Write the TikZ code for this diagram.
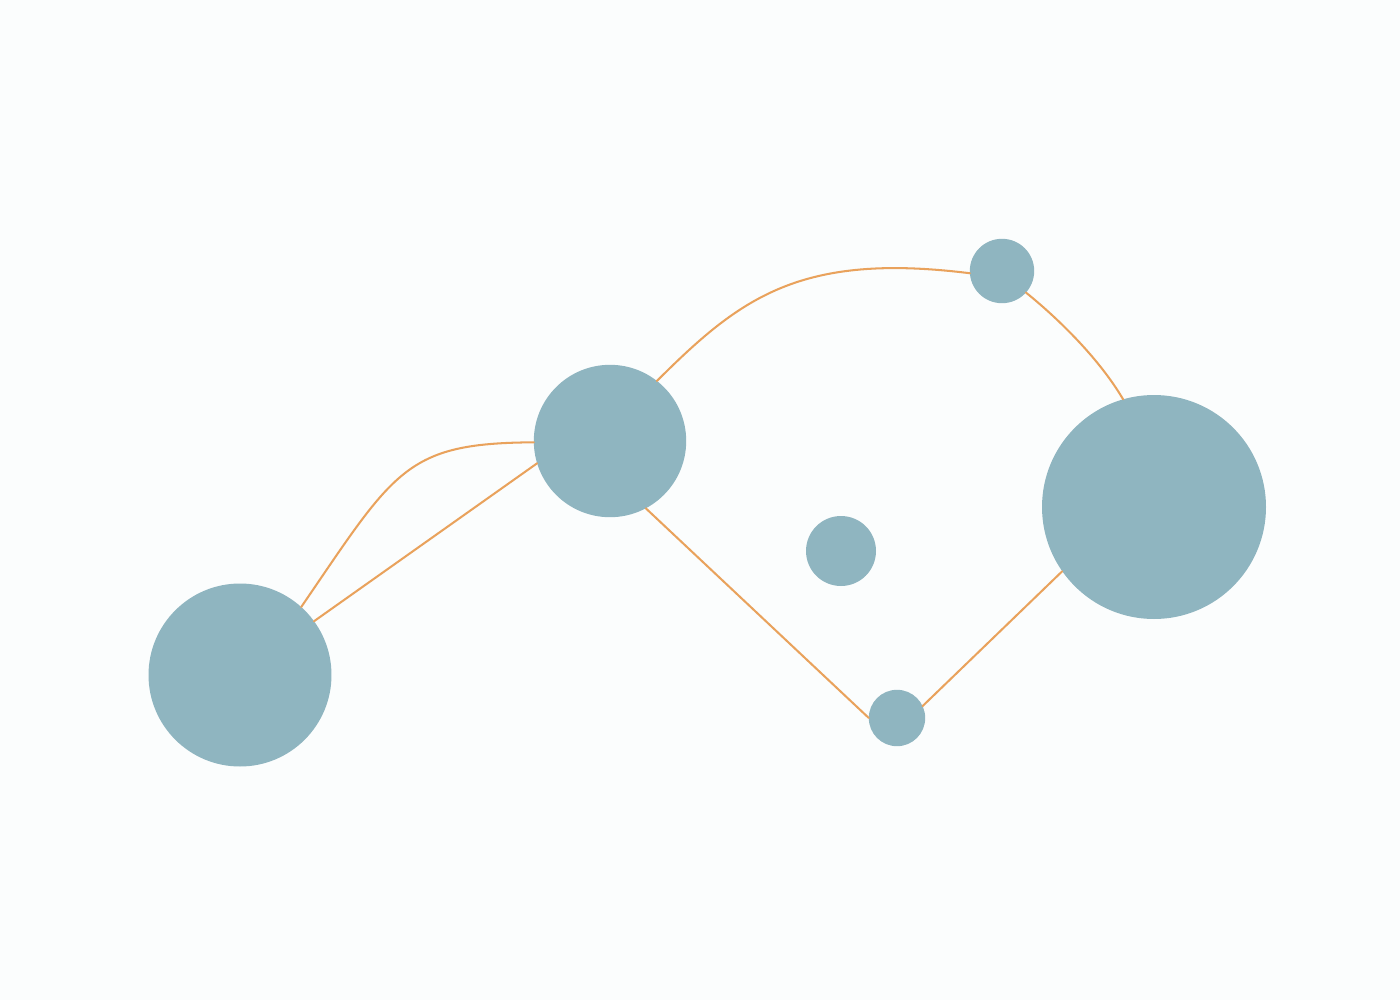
\documentclass[tikz,border=0pt]{standalone}
\definecolor{dotfill}{HTML}{8FB5C0}
\definecolor{linkcol}{HTML}{E9A25C}
\definecolor{bgcol}{HTML}{FBFDFD}
\begin{document}
\begin{tikzpicture}[x=0.05cm,y=-0.05cm,
  dot/.style={circle,fill=dotfill,draw=none,inner sep=0pt,outer sep=0pt},
  link/.style={draw=linkcol,line width=2.9pt,line cap=round}]
\fill[bgcol] (0,0) rectangle (1400,1000);
\useasboundingbox (0,0) rectangle (1400,1000);
\node[dot,minimum size=9.15cm] (A) at (240,675) {};
\node[dot,minimum size=7.62cm] (B) at (610,441) {};
\node[dot,minimum size=3.22cm] (C) at (1002,271) {};
\node[dot,minimum size=11.2cm] (D) at (1154,507) {};
\node[dot,minimum size=3.5cm] (E) at (841,551) {};
\node[dot,minimum size=2.82cm] (F) at (897,718) {};
\draw[link] (A.48) .. controls (395,470) and (405,443) .. (B.181);
\draw[link] (A.36) -- (B.197);
\draw[link] (B.52) .. controls (740,298) and (800,252) .. (C.184);
\draw[link] (C.-42) .. controls (1060,320) and (1100,360) .. (D.106);
\draw[link] (B.-62) -- (F.180);
\draw[link] (F.25) -- (D.215);
\end{tikzpicture}
\end{document}
